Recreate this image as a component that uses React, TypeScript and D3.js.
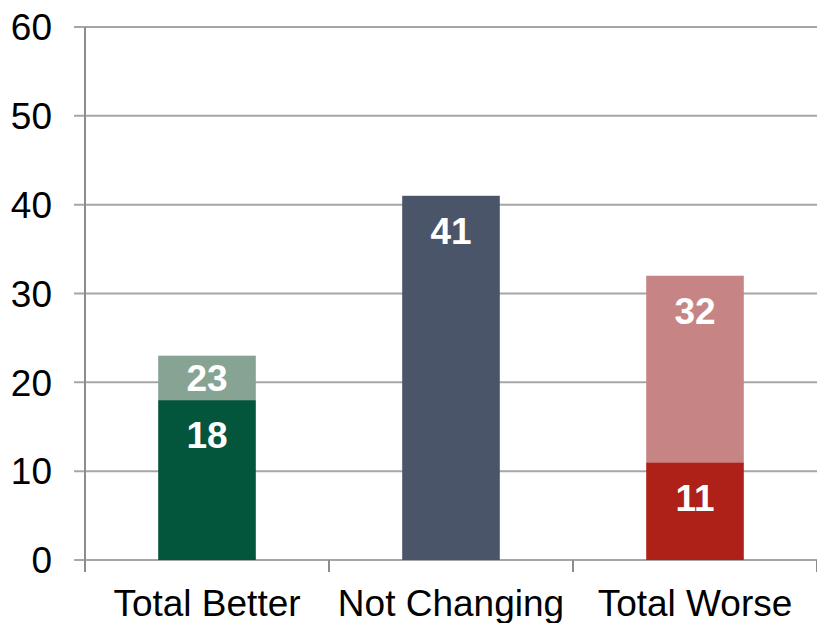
import React from "react";
import * as d3 from "d3";

const categories = ["Total Better", "Not Changing", "Total Worse"];
const baseValues = [18, 41, 11];
const totalValues = [23, 41, 32];
const baseColors = ["#03553c", "#4a5569", "#ae2118"];
const topColors = ["#86a393", "#4a5569", "#c68584"];
const yTicks = [0, 10, 20, 30, 40, 50, 60];

const W = 817;
const H = 623;
const left = 85;
const right = 817;
const top = 27;
const bottom = 560;
const font = "'Liberation Sans', Arial, sans-serif";

export default function App() {
  const x = d3.scaleBand<string>().domain(categories).range([left, right]).paddingInner(0.6).paddingOuter(0.3);
  const y = d3.scaleLinear().domain([0, 60]).range([bottom, top]);
  const step = x.step();

  return (
    <svg width={W} height={H} style={{ position: "absolute", left: 0, top: 0, background: "#fff" }}>
      {yTicks.map(t => (
        <g key={t}>
          <line x1={74} x2={right} y1={y(t)} y2={y(t)} stroke="#a6a6a6" strokeWidth={2} />
          <text x={52} y={y(t)} dy="0.36em" textAnchor="end" fontFamily={font} fontSize={37} fill="#000">
            {t}
          </text>
        </g>
      ))}
      <line x1={left} x2={left} y1={top} y2={572} stroke="#8c8c8c" strokeWidth={2} />
      {d3.range(categories.length + 1).map(i => (
        <line key={i} x1={left + i * step} x2={left + i * step} y1={bottom} y2={572} stroke="#8c8c8c" strokeWidth={2} />
      ))}
      {categories.map((c, i) => {
        const bx = x(c) as number;
        const bw = x.bandwidth();
        const yb = y(baseValues[i]);
        const yt = y(totalValues[i]);
        const cx = bx + bw / 2;
        const hasTop = totalValues[i] > baseValues[i];
        return (
          <g key={c}>
            <rect x={bx} y={yb} width={bw} height={bottom - yb} fill={baseColors[i]} />
            {hasTop && <rect x={bx} y={yt} width={bw} height={yb - yt} fill={topColors[i]} />}
            {hasTop && (
              <text x={cx} y={yt + Math.min(35, (yb - yt) / 2)} dy="0.36em" textAnchor="middle" fontFamily={font} fontWeight="bold" fontSize={37} fill="#fff">
                {totalValues[i]}
              </text>
            )}
            <text x={cx} y={yb + 35} dy="0.36em" textAnchor="middle" fontFamily={font} fontWeight="bold" fontSize={37} fill="#fff">
              {baseValues[i]}
            </text>
            <text x={cx} y={616} textAnchor="middle" fontFamily={font} fontSize={37} fill="#000">
              {c}
            </text>
          </g>
        );
      })}
    </svg>
  );
}
